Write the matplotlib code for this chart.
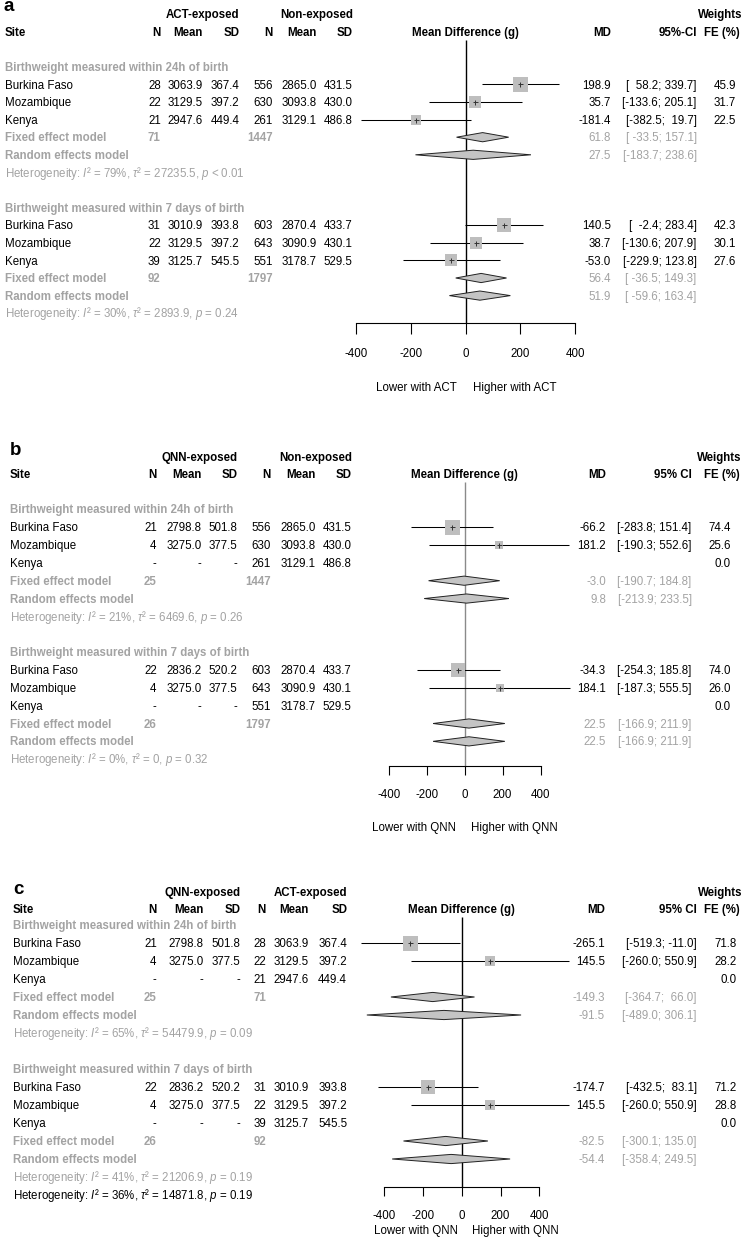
import matplotlib
matplotlib.use("Agg")
import matplotlib.pyplot as plt
from matplotlib.patches import Polygon
from matplotlib.transforms import blended_transform_factory
import numpy as np

W_PX, H_PX = 749, 1241
FS = 8.3
FS_PX = FS / 72 * 100
HALF_CAP = 0.716 * FS_PX / 2
GRAY_TXT = "#a3a3a3"
SQ_COL = "#bebebe"
DIA_COL = "#c4c4c4"

plt.rcParams["font.family"] = ["Liberation Sans", "DejaVu Sans"]
plt.rcParams["axes.unicode_minus"] = False
plt.rcParams["mathtext.fontset"] = "custom"
plt.rcParams["mathtext.rm"] = "Liberation Sans"
plt.rcParams["mathtext.it"] = "Liberation Sans:italic"
plt.rcParams["mathtext.bf"] = "Liberation Sans:bold"

# ------------------------------------------------------------------ data
sites = ["Burkina Faso", "Mozambique", "Kenya"]
subgroups = ["Birthweight measured within 24h of birth",
             "Birthweight measured within 7 days of birth"]
ticks = [-400, -200, 0, 200, 400]

# Panel a: ACT-exposed vs Non-exposed
a_exp_24 = [[28, 3063.9, 367.4], [22, 3129.5, 397.2], [21, 2947.6, 449.4]]
a_ctl_24 = [[556, 2865.0, 431.5], [630, 3093.8, 430.0], [261, 3129.1, 486.8]]
a_md_24 = [198.9, 35.7, -181.4]
a_lo_24 = [58.2, -133.6, -382.5]
a_hi_24 = [339.7, 205.1, 19.7]
a_w_24 = [45.9, 31.7, 22.5]
a_fixed_24 = [61.8, -33.5, 157.1]
a_random_24 = [27.5, -183.7, 238.6]
a_ntot_24 = [71, 1447]
a_het_24 = ["79%", "27235.5", "< 0.01"]

a_exp_7d = [[31, 3010.9, 393.8], [22, 3129.5, 397.2], [39, 3125.7, 545.5]]
a_ctl_7d = [[603, 2870.4, 433.7], [643, 3090.9, 430.1], [551, 3178.7, 529.5]]
a_md_7d = [140.5, 38.7, -53.0]
a_lo_7d = [-2.4, -130.6, -229.9]
a_hi_7d = [283.4, 207.9, 123.8]
a_w_7d = [42.3, 30.1, 27.6]
a_fixed_7d = [56.4, -36.5, 149.3]
a_random_7d = [51.9, -59.6, 163.4]
a_ntot_7d = [92, 1797]
a_het_7d = ["30%", "2893.9", "= 0.24"]

# Panel b: QNN-exposed vs Non-exposed
b_exp_24 = [[21, 2798.8, 501.8], [4, 3275.0, 377.5], None]
b_ctl_24 = [[556, 2865.0, 431.5], [630, 3093.8, 430.0], [261, 3129.1, 486.8]]
b_md_24 = [-66.2, 181.2, None]
b_lo_24 = [-283.8, -190.3, None]
b_hi_24 = [151.4, 552.6, None]
b_w_24 = [74.4, 25.6, 0.0]
b_fixed_24 = [-3.0, -190.7, 184.8]
b_random_24 = [9.8, -213.9, 233.5]
b_ntot_24 = [25, 1447]
b_het_24 = ["21%", "6469.6", "= 0.26"]

b_exp_7d = [[22, 2836.2, 520.2], [4, 3275.0, 377.5], None]
b_ctl_7d = [[603, 2870.4, 433.7], [643, 3090.9, 430.1], [551, 3178.7, 529.5]]
b_md_7d = [-34.3, 184.1, None]
b_lo_7d = [-254.3, -187.3, None]
b_hi_7d = [185.8, 555.5, None]
b_w_7d = [74.0, 26.0, 0.0]
b_fixed_7d = [22.5, -166.9, 211.9]
b_random_7d = [22.5, -166.9, 211.9]
b_ntot_7d = [26, 1797]
b_het_7d = ["0%", "0", "= 0.32"]

# Panel c: QNN-exposed vs ACT-exposed
c_exp_24 = [[21, 2798.8, 501.8], [4, 3275.0, 377.5], None]
c_ctl_24 = [[28, 3063.9, 367.4], [22, 3129.5, 397.2], [21, 2947.6, 449.4]]
c_md_24 = [-265.1, 145.5, None]
c_lo_24 = [-519.3, -260.0, None]
c_hi_24 = [-11.0, 550.9, None]
c_w_24 = [71.8, 28.2, 0.0]
c_fixed_24 = [-149.3, -364.7, 66.0]
c_random_24 = [-91.5, -489.0, 306.1]
c_ntot_24 = [25, 71]
c_het_24 = ["65%", "54479.9", "= 0.09"]

c_exp_7d = [[22, 2836.2, 520.2], [4, 3275.0, 377.5], None]
c_ctl_7d = [[31, 3010.9, 393.8], [22, 3129.5, 397.2], [39, 3125.7, 545.5]]
c_md_7d = [-174.7, 145.5, None]
c_lo_7d = [-432.5, -260.0, None]
c_hi_7d = [83.1, 550.9, None]
c_w_7d = [71.2, 28.8, 0.0]
c_fixed_7d = [-82.5, -300.1, 135.0]
c_random_7d = [-54.4, -358.4, 249.5]
c_ntot_7d = [26, 92]
c_het_7d = ["41%", "21206.9", "= 0.19"]
c_het_overall = ["36%", "14871.8", "= 0.19"]


def group(exp, ctl, md, lo, hi, w, fixed, random, ntot, het):
    return dict(exp=exp, ctl=ctl, md=md, lo=lo, hi=hi, w=w, fixed=fixed,
                random=random, ntot=ntot, het=het)


panels = [
    dict(letter="a", letter_x=4, letter_y=11,
         exp_lab="ACT-exposed", ctl_lab="Non-exposed", ci_lab="95%-CI",
         side="ACT",
         h1=14, h2=31.6, yg=66.8, sp=17.6,
         x0=465.7, pp200=54.7,
         axis_y=323.3, tick_len=11, lab_y=352, lower_y=387,
         site_x=5, cols=[160.7, 203, 239.3, 272.7, 317, 352.7],
         md_x=610.7, ci_x=696.7, w_x=736, wh_x=742, feh_x=739.5,
         lower_x=457, higher_x=472.7, zcol="black",
         groups=[group(a_exp_24, a_ctl_24, a_md_24, a_lo_24, a_hi_24, a_w_24,
                       a_fixed_24, a_random_24, a_ntot_24, a_het_24),
                 group(a_exp_7d, a_ctl_7d, a_md_7d, a_lo_7d, a_hi_7d, a_w_7d,
                       a_fixed_7d, a_random_7d, a_ntot_7d, a_het_7d)],
         het2=None),
    dict(letter="b", letter_x=10, letter_y=455,
         exp_lab="QNN-exposed", ctl_lab="Non-exposed", ci_lab="95% CI",
         side="QNN",
         h1=457, h2=474, yg=509.3, sp=17.85,
         x0=464.7, pp200=37.9,
         axis_y=766, tick_len=9, lab_y=793.3, lower_y=827,
         site_x=10, cols=[156.7, 201.7, 237.7, 270.7, 316, 351.7],
         md_x=606, ci_x=691.7, w_x=730.7, wh_x=741.7, feh_x=739.3,
         lower_x=456, higher_x=471, zcol="#8a8a8a",
         groups=[group(b_exp_24, b_ctl_24, b_md_24, b_lo_24, b_hi_24, b_w_24,
                       b_fixed_24, b_random_24, b_ntot_24, b_het_24),
                 group(b_exp_7d, b_ctl_7d, b_md_7d, b_lo_7d, b_hi_7d, b_w_7d,
                       b_fixed_7d, b_random_7d, b_ntot_7d, b_het_7d)],
         het2=None),
    dict(letter="c", letter_x=13, letter_y=894,
         exp_lab="QNN-exposed", ctl_lab="ACT-exposed", ci_lab="95% CI",
         side="QNN",
         h1=892, h2=909, yg=925, sp=18.0,
         x0=461.7, pp200=38.8,
         axis_y=1186.7, tick_len=8.5, lab_y=1214.3, lower_y=1230,
         site_x=13, cols=[156.7, 203.5, 240.3, 266, 309, 347.2],
         md_x=605, ci_x=696.7, w_x=736.7, wh_x=742.7, feh_x=740,
         lower_x=458, higher_x=471.7, zcol="black",
         groups=[group(c_exp_24, c_ctl_24, c_md_24, c_lo_24, c_hi_24, c_w_24,
                       c_fixed_24, c_random_24, c_ntot_24, c_het_24),
                 group(c_exp_7d, c_ctl_7d, c_md_7d, c_lo_7d, c_hi_7d, c_w_7d,
                       c_fixed_7d, c_random_7d, c_ntot_7d, c_het_7d)],
         het2=c_het_overall),
]

fig = plt.figure(figsize=(W_PX / 100, H_PX / 100), dpi=100)


def het_text(h):
    return ("Heterogeneity: $I$\u00b2 = " + h[0] + r", $\tau$" + "\u00b2 = " +
            h[1] + ", $p$ " + h[2])


def draw_panel(P):
    ax = fig.add_axes([0, 0, 1, 1])
    ax.patch.set_alpha(0)
    x0, k = P["x0"], 200.0 / P["pp200"]
    ax.set_xlim((0 - x0) * k, (W_PX - x0) * k)
    yg, sp = P["yg"], P["sp"]

    def row(py):
        return (py - yg) / sp

    ax.set_ylim(row(H_PX), row(0))
    tr = blended_transform_factory(fig.transFigure, ax.transData)

    def put(xpx, r, s, ha="left", bold=False, color="black", size=FS):
        ax.text(xpx / W_PX, r + HALF_CAP / sp, s, transform=tr, ha=ha,
                va="baseline", fontsize=size,
                fontweight="bold" if bold else "normal", color=color)

    # panel letter
    ax.text(P["letter_x"] / W_PX, row(P["letter_y"]), P["letter"], transform=tr,
            ha="left", va="baseline", fontsize=13.5, fontweight="bold")

    # headers
    c = P["cols"]
    r1, r2 = row(P["h1"]), row(P["h2"])
    put(c[2], r1, P["exp_lab"], ha="right", bold=True)
    put(c[5], r1, P["ctl_lab"], ha="right", bold=True)
    put(P["wh_x"], r1, "Weights", ha="right", bold=True)
    put(P["site_x"], r2, "Site", bold=True)
    for xc, lab in zip(c, ["N", "Mean", "SD", "N", "Mean", "SD"]):
        put(xc, r2, lab, ha="right", bold=True)
    ax.text(0, r2 + HALF_CAP / sp, "Mean Difference (g)", ha="center",
            va="baseline", fontsize=FS, fontweight="bold")
    put(P["md_x"], r2, "MD", ha="right", bold=True)
    put(P["ci_x"], r2, P["ci_lab"], ha="right", bold=True)
    put(P["feh_x"], r2, "FE (%)", ha="right", bold=True)

    # CI string widths
    lows, highs = [], []
    for G in P["groups"]:
        lows += [v for v in G["lo"] if v is not None] + [G["fixed"][1], G["random"][1]]
        highs += [v for v in G["hi"] if v is not None] + [G["fixed"][2], G["random"][2]]
    wl = max(len(f"{v:.1f}") for v in lows)
    wh = max(len(f"{v:.1f}") for v in highs)

    def ci(lo, hi):
        return "[" + f"{lo:.1f}".rjust(wl) + "; " + f"{hi:.1f}".rjust(wh) + "]"

    wmax = max(max(G["w"]) for G in P["groups"])
    hh = 4.6 / sp

    for gi, G in enumerate(P["groups"]):
        base = gi * 8
        put(P["site_x"], base, subgroups[gi], bold=True, color=GRAY_TXT)
        for i in range(3):
            rr = base + 1 + i
            put(P["site_x"], rr, sites[i])
            e, ct = G["exp"][i], G["ctl"][i]
            vals = ([str(e[0]), f"{e[1]:.1f}", f"{e[2]:.1f}"] if e else ["-", "-", "-"]) + \
                   [str(ct[0]), f"{ct[1]:.1f}", f"{ct[2]:.1f}"]
            for xc, v in zip(c, vals):
                put(xc, rr, v, ha="right")
            md = G["md"][i]
            if md is not None:
                put(P["md_x"], rr, f"{md:.1f}", ha="right")
                put(P["ci_x"], rr, ci(G["lo"][i], G["hi"][i]), ha="right")
                ax.hlines(rr, G["lo"][i], G["hi"][i], color="black", lw=0.75, zorder=2)
                side = 15.0 * np.sqrt(G["w"][i] / wmax)
                ax.plot([md], [rr], marker="s", ms=side * 0.72, mew=0,
                        color=SQ_COL, zorder=3)
                ax.plot([md], [rr], marker="+", ms=3.6, mew=0.7, color="#333333",
                        zorder=4)
            put(P["w_x"], rr, f"{G['w'][i]:.1f}", ha="right")
        # fixed & random
        for j, (lab, est) in enumerate([("Fixed effect model", G["fixed"]),
                                        ("Random effects model", G["random"])]):
            rr = base + 4 + j
            put(P["site_x"], rr, lab, bold=True, color=GRAY_TXT)
            put(P["md_x"], rr, f"{est[0]:.1f}", ha="right", color=GRAY_TXT)
            put(P["ci_x"], rr, ci(est[1], est[2]), ha="right", color=GRAY_TXT)
            poly = Polygon([(est[1], rr), (est[0], rr - hh), (est[2], rr),
                            (est[0], rr + hh)], closed=True, fc=DIA_COL,
                           ec="#222222", lw=0.7, zorder=3)
            ax.add_patch(poly)
        put(c[0], base + 4, str(G["ntot"][0]), ha="right", bold=True, color=GRAY_TXT)
        put(c[3], base + 4, str(G["ntot"][1]), ha="right", bold=True, color=GRAY_TXT)
        put(P["site_x"], base + 6, het_text(G["het"]), color=GRAY_TXT)
    if P["het2"] is not None:
        put(P["site_x"], 15, het_text(P["het2"]), color="black")

    # reference line
    ax.vlines(0, r2 + 0.45, row(P["axis_y"]), color=P["zcol"], lw=1.0, zorder=1)

    # axis
    for s in ["top", "left", "right"]:
        ax.spines[s].set_visible(False)
    ax.spines["bottom"].set_position(("data", row(P["axis_y"])))
    ax.spines["bottom"].set_bounds(ticks[0], ticks[-1])
    ax.spines["bottom"].set_linewidth(0.8)
    ax.set_yticks([])
    ax.set_xticks(ticks)
    ax.set_xticklabels([str(t) for t in ticks])
    pad_px = P["lab_y"] - 4.27 - P["axis_y"] - P["tick_len"]
    ax.tick_params(axis="x", direction="out", length=P["tick_len"] * 0.72,
                   width=0.8, pad=pad_px * 0.72, labelsize=FS)

    lr = row(P["lower_y"])
    put(P["lower_x"], lr, "Lower with " + P["side"], ha="right")
    put(P["higher_x"], lr, "Higher with " + P["side"], ha="left")


for P in panels:
    draw_panel(P)

fig.savefig("out.png", dpi=100)
